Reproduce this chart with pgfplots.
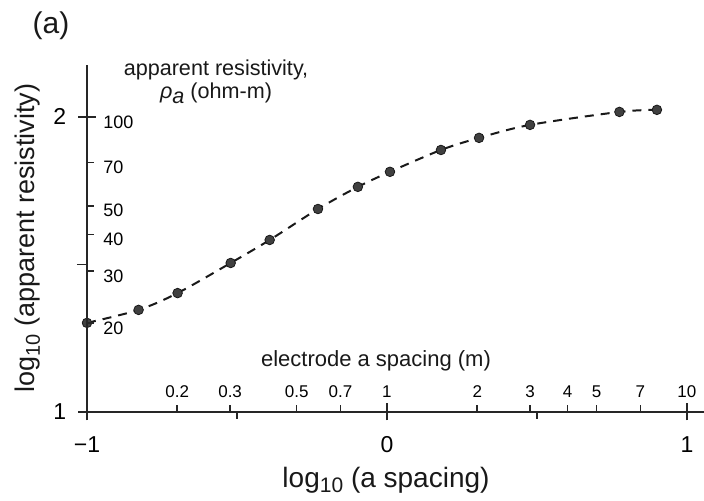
\documentclass[border=0pt]{standalone}
\usepackage{fontspec}
\setmainfont{Liberation Sans}
\usepackage{pgfplots}
\pgfplotsset{compat=1.18}
\pgfplotstableread{
x y
-1.000 1.302
-0.828 1.346
-0.698 1.403
-0.521 1.505
-0.391 1.583
-0.230 1.688
-0.097 1.763
0.010 1.814
0.180 1.888
0.307 1.929
0.477 1.973
0.775 2.017
0.900 2.024
}\data
\begin{document}
\begin{tikzpicture}
\path[use as bounding box] (-43.5pt,-44.5pt) rectangle (308.5pt,206pt);
\pgfplotsset{common/.style={
  at={(0,0)}, anchor=south west,
  scale only axis, width=308.5pt, height=173.5pt,
  xmin=-1, xmax=1.057, ymin=1, ymax=2.176,
  axis x line=bottom, axis y line=left,
  axis line style={-, line width=0.8pt, draw=black!85},
  tick style={line width=0.8pt, draw=black!85},
  /pgf/number format/assume math mode=true,
  clip=false,
}}
\begin{axis}[common,
  xtick={-1,0,1}, xticklabels={−1,0,1},
  ytick={1,2}, yticklabels={1,2},
  tick align=center, major tick length=8.5pt,
  xticklabel style={font=\fontsize{11.5}{13}\selectfont, inner sep=0pt, anchor=north, yshift=-8pt},
  yticklabel style={font=\fontsize{11.5}{13}\selectfont, inner sep=0pt, anchor=east, xshift=-6pt},
  extra x ticks={-0.5,0.5}, extra x tick labels={},
  extra x tick style={tick align=outside, major tick length=3.5pt},
  extra y ticks={1.5}, extra y tick labels={},
  extra y tick style={tick align=outside, major tick length=5pt},
]
\addplot[black!90, line width=1pt, dash pattern=on 4.5pt off 3.5pt, smooth, tension=0.5] table[x=x,y=y] {\data};
\addplot[only marks, mark=*, mark size=2.4pt, mark options={fill=black!75, draw=black!90, line width=0.4pt}] table[x=x,y=y] {\data};
\end{axis}
\begin{axis}[common,
  xtick={-0.69897,-0.52288,-0.30103,-0.15490,0,0.30103,0.47712,0.60206,0.69897,0.84510,1},
  xticklabels={0.2,0.3,0.5,0.7,1,2,3,4,5,7,10},
  ytick={1.30103,1.47712,1.60206,1.69897,1.84510,2},
  yticklabels={\raisebox{-4pt}{20},30,40,50,70,100},
  tick align=inside, major tick length=3.5pt,
  xticklabel style={font=\fontsize{8.5}{10}\selectfont, inner sep=0pt, anchor=south, yshift=7pt},
  yticklabel style={font=\fontsize{9}{11}\selectfont, inner sep=0pt, anchor=west, xshift=8pt, yshift=-2.5pt},
]
\end{axis}
\node[font=\fontsize{15}{17}\selectfont, text=black!90] at (-18pt,193pt) {(a)};
\node[font=\fontsize{13.5}{16}\selectfont, text=black!90, rotate=90] at (-29.5pt,87pt) {log\raisebox{-0.35ex}{\fontsize{10}{12}\selectfont 10} (apparent resistivity)};
\node[font=\fontsize{14}{16}\selectfont, text=black!90] at (149.5pt,-34pt) {log\raisebox{-0.35ex}{\fontsize{10.5}{12}\selectfont 10} (a spacing)};
\node[font=\fontsize{11}{13}\selectfont, text=black!90] at (144.5pt,25.5pt) {electrode a spacing (m)};
\node[font=\fontsize{10.8}{11.5}\selectfont, text=black!90, align=center] at (64.5pt,165pt) {apparent resistivity,\\{\itshape ρ\raisebox{-0.4ex}{a}} (ohm-m)};
\end{tikzpicture}
\end{document}
